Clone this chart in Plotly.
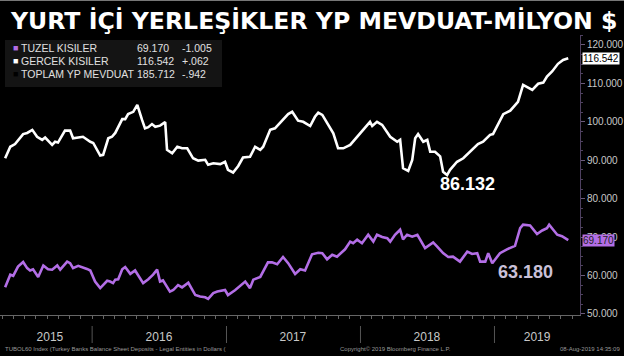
import plotly.graph_objects as go
import pandas as pd

# ---------------- data ----------------
gercek_dates = [
    "2015-05-09","2015-05-23","2015-06-05","2015-06-27","2015-07-08","2015-07-22","2015-08-04","2015-08-18",
    "2015-08-26","2015-09-14","2015-09-22","2015-09-30","2015-10-19","2015-11-02","2015-11-10","2015-11-29",
    "2015-12-07","2015-12-27","2016-01-04","2016-01-23","2016-01-31","2016-02-14","2016-02-24","2016-03-04",
    "2016-03-23","2016-03-31","2016-04-08","2016-04-22","2016-05-03","2016-05-16","2016-05-24","2016-06-02",
    "2016-06-12","2016-06-21","2016-07-04","2016-07-18","2016-07-23","2016-08-06","2016-08-20","2016-09-02",
    "2016-09-16","2016-10-02","2016-10-16","2016-11-04","2016-11-12","2016-11-26","2016-12-15","2016-12-28",
    "2017-01-05","2017-01-19","2017-02-02","2017-02-15","2017-03-06","2017-03-20","2017-04-03","2017-04-11",
    "2017-04-30","2017-05-13","2017-06-02","2017-06-18","2017-06-29","2017-07-07","2017-07-15","2017-07-29",
    "2017-08-17","2017-08-30","2017-09-08","2017-09-19","2017-10-02","2017-10-19","2017-11-01","2017-11-15",
    "2017-12-04","2017-12-23","2018-01-08","2018-01-27","2018-02-02","2018-02-15","2018-03-01","2018-03-23",
    "2018-04-11","2018-04-19","2018-04-27","2018-05-11","2018-05-22","2018-05-30","2018-06-07","2018-06-21",
    "2018-07-02","2018-07-10","2018-07-23","2018-08-01","2018-08-06","2018-08-14","2018-08-25","2018-09-02",
    "2018-09-21","2018-10-08","2018-10-27","2018-11-17","2018-12-01","2018-12-20","2018-12-28","2019-01-25",
    "2019-02-13","2019-03-06","2019-03-20","2019-04-14","2019-04-30","2019-05-14","2019-05-24","2019-06-07",
    "2019-06-23","2019-07-07","2019-07-21",
]
gercek_values = [
    90.5, 93.5, 94.2, 96.8, 97.1, 97.9, 96.1, 95.3,
    95.9, 94.0, 94.8, 94.6, 97.7, 97.7, 95.7, 95.9,
    96.1, 94.8, 94.5, 91.2, 91.4, 95.7, 96.1, 97.1,
    100.7, 100.7, 102.0, 102.6, 104.4, 100.5, 98.3, 98.6,
    99.4, 98.7, 99.0, 99.9, 92.7, 91.8, 93.5, 93.1,
    93.1, 90.5, 89.9, 90.1, 88.8, 89.2, 89.0, 89.6,
    87.5, 86.8, 88.5, 90.7, 90.9, 93.5, 92.7, 93.5,
    97.9, 98.3, 100.5, 102.0, 102.6, 101.3, 100.3, 100.0,
    98.9, 101.3, 102.4, 101.8, 99.6, 97.0, 93.1, 93.1,
    94.0, 96.1, 98.1, 100.0, 98.9, 100.0, 99.2, 96.1,
    94.8, 95.3, 87.9, 87.2, 90.1, 95.7, 96.8, 94.8,
    95.3, 92.2, 92.2, 91.4, 91.0, 87.0, 86.132, 87.5,
    89.6, 90.5, 92.2, 94.2, 94.8, 96.6, 96.8, 102.0,
    102.9, 105.2, 109.6, 108.3, 109.9, 110.2, 111.8, 113.1,
    115.1, 116.1, 116.542,
]

tuzel_dates = [
    "2015-05-09","2015-05-23","2015-05-31","2015-06-13","2015-06-27","2015-07-08","2015-07-16","2015-07-24",
    "2015-08-07","2015-08-21","2015-09-03","2015-09-14","2015-09-28","2015-10-06","2015-10-25","2015-11-02",
    "2015-11-10","2015-11-24","2015-12-18","2015-12-27","2016-01-09","2016-01-23","2016-02-11","2016-02-19",
    "2016-02-27","2016-03-04","2016-03-12","2016-03-23","2016-03-31","2016-04-14","2016-04-27","2016-05-05",
    "2016-05-19","2016-06-02","2016-06-15","2016-06-26","2016-07-04","2016-07-12","2016-07-31","2016-08-09",
    "2016-08-22","2016-09-02","2016-09-19","2016-10-08","2016-10-21","2016-11-04","2016-11-12","2016-11-26",
    "2016-12-07","2016-12-28","2017-01-05","2017-01-25","2017-02-07","2017-02-21","2017-03-06","2017-03-15",
    "2017-04-03","2017-04-11","2017-04-24","2017-05-05","2017-05-19","2017-06-04","2017-06-18","2017-07-07",
    "2017-07-21","2017-08-03","2017-08-22","2017-09-08","2017-09-19","2017-10-02","2017-10-16","2017-10-29",
    "2017-11-20","2017-12-04","2017-12-12","2017-12-23","2018-01-05","2018-01-22","2018-02-05","2018-02-15",
    "2018-03-01","2018-03-15","2018-03-23","2018-04-05","2018-04-19","2018-04-27","2018-05-08","2018-05-22",
    "2018-06-05","2018-06-26","2018-07-05","2018-07-18","2018-07-29","2018-08-14","2018-08-28","2018-09-10",
    "2018-09-29","2018-10-19","2018-11-01","2018-11-15","2018-11-23","2018-12-07","2018-12-15","2018-12-26",
    "2019-01-16","2019-02-04","2019-02-26","2019-03-12","2019-03-20","2019-04-08","2019-04-27","2019-05-11",
    "2019-05-24","2019-05-30","2019-06-10","2019-06-21","2019-07-04","2019-07-15","2019-07-21",
]
tuzel_values = [
    56.9, 60.2, 59.9, 62.3, 63.5, 61.9, 61.3, 61.6,
    59.6, 62.6, 61.6, 61.5, 62.6, 61.5, 63.6, 63.2,
    61.9, 62.5, 61.7, 61.3, 58.4, 56.7, 58.6, 58.4,
    58.0, 58.9, 59.0, 61.6, 62.2, 60.4, 61.3, 60.2,
    58.0, 59.0, 60.2, 61.5, 58.4, 58.7, 55.8, 56.2,
    57.5, 56.9, 58.1, 54.9, 54.5, 54.3, 53.9, 55.4,
    55.8, 56.2, 54.9, 56.2, 57.3, 58.4, 56.7, 58.9,
    59.6, 61.0, 63.4, 63.4, 62.9, 64.8, 63.2, 60.4,
    61.6, 61.3, 65.5, 65.9, 65.8, 64.2, 65.4, 64.9,
    66.8, 68.8, 68.4, 69.3, 68.4, 70.6, 68.8, 70.6,
    70.0, 69.7, 68.8, 70.6, 71.9, 69.4, 70.6, 70.1,
    70.6, 67.1, 67.7, 68.6, 67.5, 65.8, 64.8, 64.9,
    63.6, 66.2, 65.6, 65.8, 63.6, 63.6, 65.8, 63.18,
    65.8, 66.8, 67.7, 72.3, 73.2, 73.0, 70.8, 71.7,
    72.3, 73.2, 71.9, 70.6, 70.2, 69.5, 69.17,
]

legend_names = ["TUZEL KISILER", "GERCEK KISILER", "TOPLAM YP MEVDUAT"]
legend_last = ["69.170", "116.542", "185.712"]
legend_change = ["-1.005", "+.062", "-.942"]

year_labels = ["2015", "2016", "2017", "2018", "2019"]
year_label_dates = ["2015-09-08", "2016-07-01", "2017-07-01", "2018-07-01", "2019-04-27"]
year_starts = ["2016-01-01", "2017-01-01", "2018-01-01", "2019-01-01"]

ytick_vals = [50, 60, 70, 80, 90, 100, 110, 120]
ytick_text = ["50.000", "60.000", "70.000", "80.000", "90.000", "100.000", "110.000", "120.000"]

title_text = "YURT İÇİ YERLEŞİKLER YP MEVDUAT-MİLYON $"

# ---------------- styles ----------------
PURPLE = "#b36ee6"
WHITE = "#ffffff"
GREY = "#c8c8c8"
FONT = "Liberation Sans"

fig = go.Figure()
fig.add_trace(go.Scatter(x=pd.to_datetime(tuzel_dates), y=tuzel_values, mode="lines",
                         line=dict(color=PURPLE, width=2.6), name=legend_names[0],
                         hoverinfo="x+y"))
fig.add_trace(go.Scatter(x=pd.to_datetime(gercek_dates), y=gercek_values, mode="lines",
                         line=dict(color=WHITE, width=2.6), name=legend_names[1],
                         hoverinfo="x+y"))

annotations = []
shapes = []

# title
annotations.append(dict(text="<b>" + title_text + "</b>", xref="paper", yref="paper",
                        x=8/580, y=(315-21)/280, xanchor="left", yanchor="middle", showarrow=False,
                        font=dict(family="DejaVu Sans", size=23.6, color=WHITE)))

# legend box
shapes.append(dict(type="rect", xref="paper", yref="paper", x0=5/580, x1=222/580,
                   y0=(315-87)/280, y1=(315-40)/280, fillcolor="#141414",
                   line=dict(width=0), layer="below"))
marker_colors = [PURPLE, WHITE, "#000000"]
for i in range(3):
    yp = (315 - (48 + 13 * i)) / 280
    annotations.append(dict(text="■", xref="paper", yref="paper", x=11/580, y=yp,
                            xanchor="left", yanchor="middle", showarrow=False,
                            font=dict(family=FONT, size=9, color=marker_colors[i])))
    annotations.append(dict(text=legend_names[i], xref="paper", yref="paper", x=19/580, y=yp,
                            xanchor="left", yanchor="middle", showarrow=False,
                            font=dict(family=FONT, size=10.5, color="#e0e0e0")))
    annotations.append(dict(text=legend_last[i], xref="paper", yref="paper", x=135/580, y=yp,
                            xanchor="left", yanchor="middle", showarrow=False,
                            font=dict(family=FONT, size=10.5, color="#e0e0e0")))
    annotations.append(dict(text=legend_change[i], xref="paper", yref="paper", x=180/580, y=yp,
                            xanchor="left", yanchor="middle", showarrow=False,
                            font=dict(family=FONT, size=10.5, color="#e0e0e0")))

# last value tags on right axis
annotations.append(dict(text=legend_last[1], xref="paper", yref="y", x=1, y=gercek_values[-1],
                        xanchor="left", yanchor="middle", xshift=2, showarrow=False,
                        bgcolor=WHITE, borderpad=0,
                        font=dict(family=FONT, size=10, color="#000000")))
annotations.append(dict(text=legend_last[0], xref="paper", yref="y", x=1, y=tuzel_values[-1],
                        xanchor="left", yanchor="middle", xshift=2, showarrow=False,
                        bgcolor=PURPLE, borderpad=0,
                        font=dict(family=FONT, size=10, color="#222222")))

# min labels
gi = gercek_values.index(min(gercek_values))
annotations.append(dict(text="<b>%.3f</b>" % gercek_values[gi], x=pd.to_datetime(gercek_dates[gi]),
                        y=gercek_values[gi], xref="x", yref="y", xanchor="center", yanchor="middle",
                        xshift=20, yshift=-9, showarrow=False,
                        font=dict(family=FONT, size=18, color=WHITE)))
ti = tuzel_values.index(min(tuzel_values[-20:]))
annotations.append(dict(text="<b>%.3f</b>" % tuzel_values[ti], x=pd.to_datetime(tuzel_dates[ti]),
                        y=tuzel_values[ti], xref="x", yref="y", xanchor="center", yanchor="middle",
                        xshift=33, yshift=-9, showarrow=False,
                        font=dict(family=FONT, size=18, color="#c9c0d8")))

# year separators
for d in year_starts:
    shapes.append(dict(type="line", xref="x", yref="paper", x0=d, x1=d,
                       y0=-(326 - 315) / 280, y1=-(343 - 315) / 280,
                       line=dict(color="#555555", width=1)))

# footer
foot_y = -(349 - 315) / 280
annotations.append(dict(text="TUBOL60 Index (Turkey Banks Balance Sheet Deposits - Legal Entities in Dollars (",
                        xref="paper", yref="paper", x=3/580, y=foot_y, xanchor="left", yanchor="middle",
                        showarrow=False, font=dict(family=FONT, size=6, color="#9a9a9a")))
annotations.append(dict(text="Copyright© 2019 Bloomberg Finance L.P.",
                        xref="paper", yref="paper", x=338/580, y=foot_y, xanchor="left", yanchor="middle",
                        showarrow=False, font=dict(family=FONT, size=6, color="#9a9a9a")))
annotations.append(dict(text="08-Aug-2019 14:35:09",
                        xref="paper", yref="paper", x=622/580, y=foot_y, xanchor="right", yanchor="middle",
                        showarrow=False, font=dict(family=FONT, size=6, color="#9a9a9a")))

# top thin border line
shapes.append(dict(type="line", xref="paper", yref="paper", x0=0, x1=624/580,
                   y0=(315 - 0.5) / 280, y1=(315 - 0.5) / 280,
                   line=dict(color="#777777", width=1)))

fig.update_layout(
    width=624, height=356,
    margin=dict(l=0, r=44, t=35, b=41),
    paper_bgcolor="#000000", plot_bgcolor="#000000",
    showlegend=False,
    annotations=annotations, shapes=shapes,
    xaxis=dict(type="date", range=["2015-04-25", "2019-08-22"],
               tickvals=year_label_dates, ticktext=year_labels, ticks="", ticklen=0,
               ticklabelstandoff=11,
               tickfont=dict(family=FONT, size=12, color=GREY),
               showgrid=False, zeroline=False, showline=True, linecolor="#666666", linewidth=1,
               minor=dict(dtick="M1", tick0="2015-01-01", ticks="outside", ticklen=3,
                          tickcolor="#666666", showgrid=False)),
    yaxis=dict(side="right", range=[49.7, 122.6], tickvals=ytick_vals, ticktext=ytick_text,
               tickfont=dict(family=FONT, size=10, color=GREY), ticks="outside", ticklen=4,
               tickcolor="#6a5a7a", showgrid=False, zeroline=False, showline=True,
               linecolor="#4e4060", linewidth=1,
               minor=dict(dtick=2.5, ticks="outside", ticklen=2, tickcolor="#4e4060", showgrid=False)),
)

fig.write_html("out.html", config={"displayModeBar": False},
               post_script="document.body.style.margin='0';document.body.style.overflow='hidden';")
